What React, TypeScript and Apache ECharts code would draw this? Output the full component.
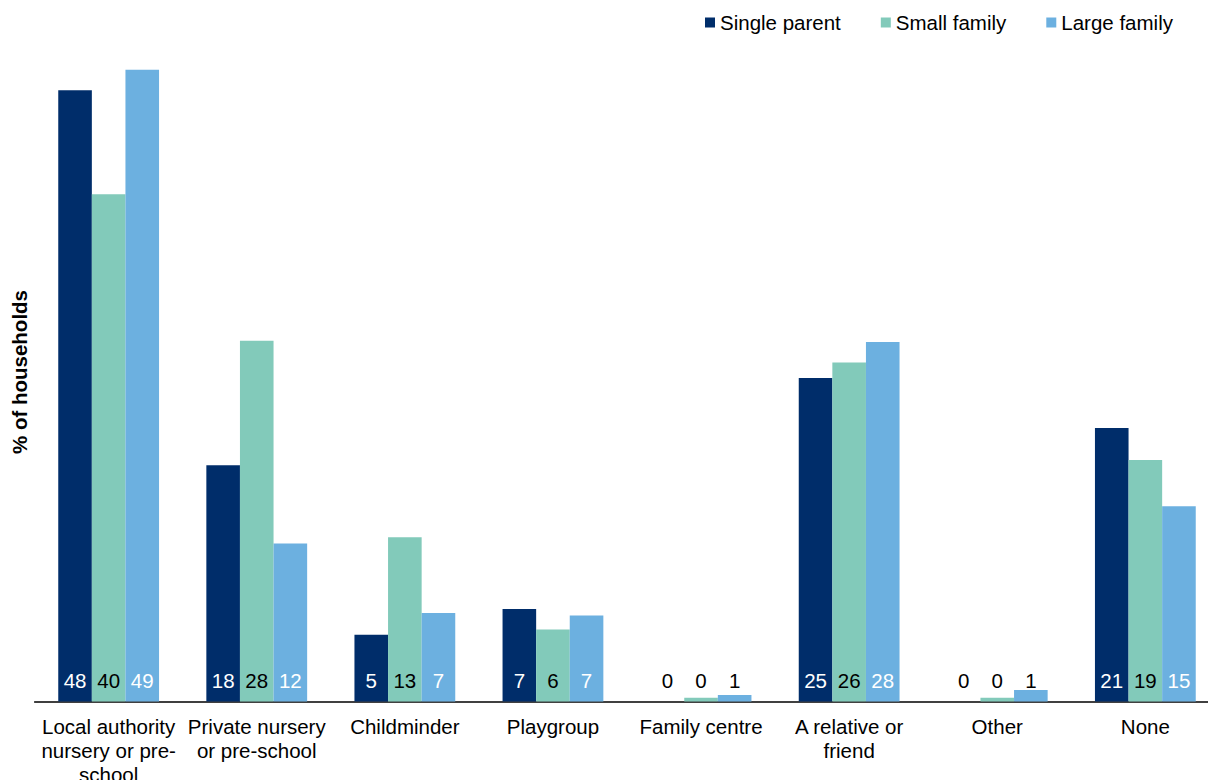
import React, { useEffect, useRef } from "react";
import * as echarts from "echarts";

// Childcare type used, by household type (% of households)
const categories = [
  "Local authority nursery or pre-school",
  "Private nursery or pre-school",
  "Childminder",
  "Playgroup",
  "Family centre",
  "A relative or friend",
  "Other",
  "None",
];

// Tick labels, wrapped as they are printed under the axis
const categoryLabels = [
  "Local authority\nnursery or pre-\nschool",
  "Private nursery\nor pre-school",
  "Childminder",
  "Playgroup",
  "Family centre",
  "A relative or\nfriend",
  "Other",
  "None",
];

const seriesNames = ["Single parent", "Small family", "Large family"];

const singleParent = [47.6, 18.4, 5.2, 7.2, 0, 25.2, 0, 21.3];
const smallFamily = [39.5, 28.1, 12.8, 5.6, 0.3, 26.4, 0.3, 18.8];
const largeFamily = [49.2, 12.3, 6.9, 6.7, 0.5, 28.0, 0.9, 15.2];

const colors = ["#002D6A", "#82CABA", "#6CB0E0"];
const labelColors = ["#ffffff", "#000000", "#ffffff"];

const FONT = "'Liberation Sans', Arial, Helvetica, sans-serif";
const FONT_SIZE = 20.5;

export default function App() {
  const ref = useRef<HTMLDivElement>(null);

  useEffect(() => {
    if (!ref.current) return;
    const chart = echarts.init(ref.current, undefined, { renderer: "svg" });

    const values = [singleParent, smallFamily, largeFamily];

    const series = values.map((vals, i) => ({
      name: seriesNames[i],
      type: "bar",
      barWidth: 33.6,
      barGap: "0%",
      itemStyle: { color: colors[i] },
      label: {
        show: true,
        position: "insideBottom",
        distance: 10.5,
        fontFamily: FONT,
        fontSize: FONT_SIZE,
        color: labelColors[i],
        formatter: (p: any) => String(Math.round(p.value)),
      },
      data: vals.map((v) => ({
        value: v,
        // values too small to hold their label read in black above the baseline
        label: v < 2 ? { color: "#000000" } : undefined,
      })),
    }));

    chart.setOption({
      animation: false,
      backgroundColor: "#ffffff",
      textStyle: { fontFamily: FONT },
      legend: {
        left: 700,
        top: 7,
        icon: "rect",
        itemWidth: 10,
        itemHeight: 10,
        itemGap: 40,
        textStyle: { fontFamily: FONT, fontSize: FONT_SIZE, color: "#000000" },
        data: seriesNames,
      },
      grid: {
        left: 34.6,
        right: 2.6,
        top: 59.5,
        bottom: 78.5,
        containLabel: false,
        outerBoundsMode: "none",
      },
      xAxis: {
        type: "category",
        data: categories,
        axisLine: { show: true, lineStyle: { color: "#000000", width: 1.5 } },
        axisTick: { show: false },
        axisLabel: {
          interval: 0,
          margin: 13,
          fontFamily: FONT,
          fontSize: FONT_SIZE,
          lineHeight: 24,
          color: "#000000",
          formatter: (_v: string, idx: number) => categoryLabels[idx],
        },
      },
      yAxis: {
        type: "value",
        min: 0,
        max: 50,
        show: false,
        splitLine: { show: false },
      },
      graphic: [
        {
          type: "text",
          x: 19,
          y: 372,
          rotation: Math.PI / 2,
          style: {
            text: "% of households",
            font: `bold ${FONT_SIZE}px ${FONT}`,
            fill: "#000000",
            align: "center",
            verticalAlign: "middle",
          },
        },
      ],
      series,
    });

    return () => chart.dispose();
  }, []);

  return (
    <div
      style={{
        position: "fixed",
        left: 0,
        top: 0,
        width: 1208,
        height: 780,
        overflow: "hidden",
        background: "#ffffff",
      }}
    >
      <div ref={ref} style={{ width: 1222, height: 780 }} />
    </div>
  );
}
